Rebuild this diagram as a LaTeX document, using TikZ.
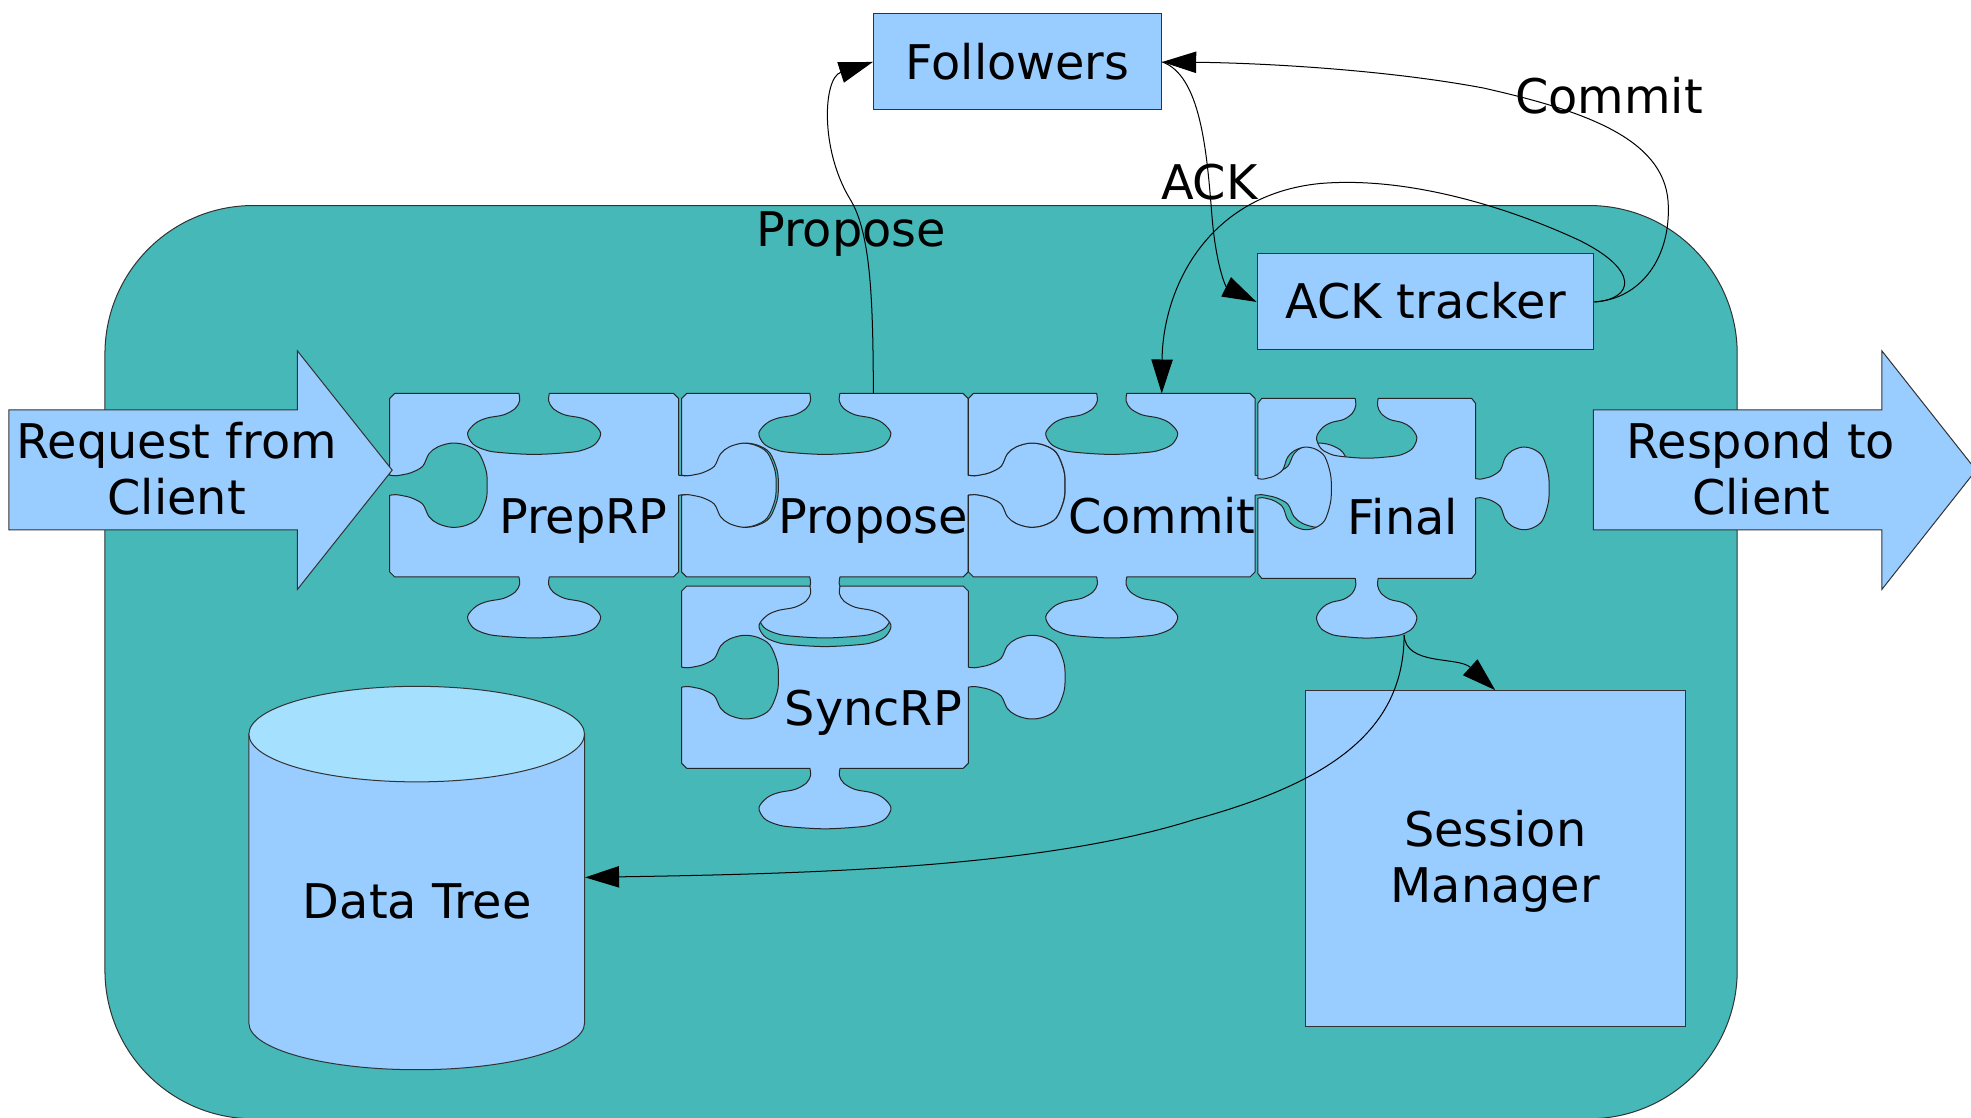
\documentclass[tikz,border=0pt]{standalone}
\usepackage{fontspec}
\setmainfont{DejaVu Sans}
\usetikzlibrary{arrows.meta}

\definecolor{poolteal}{HTML}{47B8B8}
\definecolor{paleblue}{HTML}{99CCFF}
\definecolor{captop}{HTML}{A6E0FF}

\tikzset{
  piecestyle/.style={fill=paleblue, draw=black!85, line width=0.8pt, line join=round},
  shapestyle/.style={fill=paleblue, draw=black!80, line width=0.8pt},
  boxstyle/.style={rectangle, fill=paleblue, draw=black!80, line width=0.8pt, inner sep=0pt},
  conn/.style={draw=black, line width=0.8pt, -{Triangle[length=27pt,width=17pt]}},
  lbl/.style={anchor=base, inner sep=0pt},
}

% One jigsaw piece in its own frame: 228 x 146, notches on top and left,
% tabs on the right and bottom.
\newcommand\puzzlepiece[1]{%
\path[piecestyle,#1] (4,0)
 -- plot[smooth,tension=0.55] coordinates {(102,0) (102.5,6) (99,12) (90,17) (77,19.5) (68,23.5) (61.5,31.5) (65.5,40) (74,44.5) (85,46.8) (114,48.5) (143,46.8) (154,44.5) (162.5,40) (166.5,31.5) (160,23.5) (151,19.5) (138,17) (129,12) (125.5,6) (126,0)}
 -- (224,0) -- (228,4)
 -- plot[smooth,tension=0.55] coordinates {(228,65) (233,65.5) (239,64.5) (245,63) (254,58) (259,48) (266,42.5) (277,39.5) (288,41) (298,47) (304,61) (305,73) (304,85) (298,99) (288,105) (277,106.5) (266,103.5) (259,98) (254,88) (245,83) (239,81.5) (233,80.5) (228,81)}
 -- (228,142) -- (224,146)
 -- plot[smooth,tension=0.55] coordinates {(126,146) (125.5,152) (129,158) (138,163) (151,165.5) (160,169.5) (166.5,177.5) (162.5,186) (154,190.5) (143,192.8) (114,194.5) (85,192.8) (74,190.5) (65.5,186) (61.5,177.5) (68,169.5) (77,165.5) (90,163) (99,158) (102.5,152) (102,146)}
 -- (4,146) -- (0,142)
 -- plot[smooth,tension=0.55] coordinates {(0,81) (5,80.5) (11,81.5) (17,83) (26,88) (31,98) (38,103.5) (49,106.5) (60,105) (70,99) (76,85) (77,73) (76,61) (70,47) (60,41) (49,39.5) (38,42.5) (31,48) (26,58) (17,63) (11,64.5) (5,65.5) (0,65)}
 -- (0,4) -- cycle;}

\begin{document}
\begin{tikzpicture}[x=1pt, y=-1pt, font=\fontsize{38}{44.5}\selectfont]
\useasboundingbox (0,0) rectangle (1568,889);
\fill[white] (0,0) rectangle (1568,889);

% server area
\path[fill=poolteal, draw=black!80, line width=0.8pt, rounded corners=118pt]
  (83.5,163.5) rectangle (1382,890);

% outside boxes
\node[boxstyle, minimum width=229.4pt, minimum height=76.4pt,
      text height=27.6pt, text depth=0pt] (followers) at (809.5,49.3) {Followers};
\node[boxstyle, minimum width=268pt, minimum height=76.4pt,
      text height=26pt, text depth=0pt] (acktracker) at (1134,240.2) {ACK tracker};
\node[boxstyle, minimum width=302pt, minimum height=267.3pt, align=center,
      text height=79pt, text depth=9pt] (sessmgr) at (1189.5,683.1) {Session\\Manager};

% data tree cylinder
\path[shapestyle] (198,584) -- (198,814)
  arc[start angle=180, end angle=360, x radius=133.5pt, y radius=37pt]
  -- (465,584) -- cycle;
\path[fill=captop, draw=black!80, line width=0.8pt] (331.5,584) ellipse [x radius=133.5pt, y radius=38pt];
\node[lbl] (datatree) at (332,730.6) {Data Tree};
\coordinate (dtree-east) at (465.5,698);

% request pipeline pieces
\puzzlepiece{shift={(310,313)}, xscale=1.008}
\puzzlepiece{shift={(542.2,313)}}
\puzzlepiece{shift={(770.4,313)}}
\puzzlepiece{shift={(1000.6,317)}, xscale=0.76, yscale=0.98}
\puzzlepiece{shift={(542.3,466.2)}, yscale=0.993}

\node[lbl] (lprep) at (464,424.3) {PrepRP};
\node[lbl] (lprop) at (694.6,424.3) {Propose};
\node[lbl] (lcommit) at (924.3,424.3) {Commit};
\node[lbl] (lfinal) at (1116,425.6) {Final};
\node[lbl] (lsync) at (694.8,576.8) {SyncRP};

\coordinate (propose-top) at (694.8,313);
\coordinate (commit-top) at (924.2,313);
\coordinate (final-tab) at (1117,505);

% client arrows
\path[shapestyle] (7,326) -- (236.5,326) -- (236.5,279) -- (312,374)
  -- (236.5,469) -- (236.5,421.6) -- (7,421.6) -- cycle;
\node[lbl] (req1) at (140.6,364.6) {Request from};
\node[lbl] (req2) at (140.6,408.9) {Client};

\path[shapestyle] (1267.5,326) -- (1497,326) -- (1497,279) -- (1572,374)
  -- (1497,469) -- (1497,421.6) -- (1267.5,421.6) -- cycle;
\node[lbl] (resp1) at (1400.8,364.6) {Respond to};
\node[lbl] (resp2) at (1401.3,408.9) {Client};

% message flow
\draw[conn] (propose-top) .. controls (694.5,240) and (693,185) .. (676,158)
  .. controls (652,118) and (655,62) .. (followers.west);
\draw[conn] (followers.east) .. controls (955,60) and (960,120) .. (964,170)
  .. controls (967,210) and (975,228) .. (acktracker.west);
\draw[conn] (acktracker.east) .. controls (1305,238) and (1330,205) .. (1327,160)
  .. controls (1323,110) and (1260,88) .. (1180,70)
  .. controls (1100,55) and (1000,50) .. (followers.east);
\draw[conn] (acktracker.east) .. controls (1300,238) and (1305,215) .. (1256,191)
  .. controls (1200,165) and (1120,140) .. (1050,146)
  .. controls (960,155) and (925,230) .. (commit-top);
\draw[conn] (final-tab) .. controls (1118,530) and (1160,522) .. (sessmgr.north);
\draw[conn] (final-tab) .. controls (1117,580) and (1060,622) .. (950,652)
  .. controls (830,690) and (650,695) .. (dtree-east);

\node[lbl] (lblpropose) at (677,195.7) {Propose};
\node[lbl] (lblack) at (962,159) {ACK};
\node[lbl] (lblcommit) at (1280,90.2) {Commit};
\end{tikzpicture}
\end{document}
